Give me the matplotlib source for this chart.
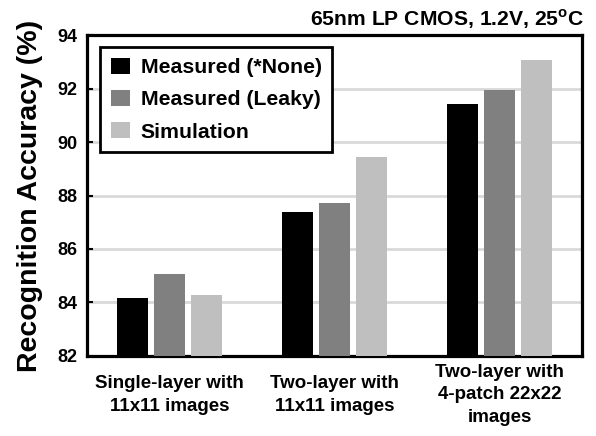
import numpy as np
import matplotlib.pyplot as plt

plt.rcParams['font.family'] = ['Liberation Sans', 'DejaVu Sans']
plt.rcParams['font.weight'] = 'bold'
plt.rcParams['mathtext.fontset'] = 'custom'
plt.rcParams['mathtext.rm'] = 'Liberation Sans:bold'
plt.rcParams['mathtext.bf'] = 'Liberation Sans:bold'

# data
groups = ["Single-layer with\n11x11 images", "Two-layer with\n11x11 images",
          "Two-layer with\n4-patch 22x22\nimages"]
measured_none = [84.15, 87.38, 91.42]
measured_leaky = [85.05, 87.73, 91.93]
simulation = [84.28, 89.43, 93.05]
series = ["Measured (*None)", "Measured (Leaky)", "Simulation"]
colors = ["#000000", "#808080", "#bfbfbf"]

fig = plt.figure(figsize=(5.96, 4.36), dpi=100)
ax = fig.add_axes([0.146, 0.1835, 0.8305, 0.7362])

x = np.arange(len(groups))
w = 0.188
step = 0.222
for i, (vals, lab, c) in enumerate(zip([measured_none, measured_leaky, simulation], series, colors)):
    ax.bar(x + (i - 1) * step, np.array(vals) - 82, w, bottom=82, color=c, label=lab, zorder=3)

ax.set_ylim(82, 94)
ax.set_xlim(-0.5, 2.5)
ax.set_yticks(np.arange(82, 95, 2))
ax.yaxis.grid(True, color="#d9d9d9", linewidth=2, zorder=0)
ax.set_xticks(x)
ax.set_xticklabels(groups, fontsize=13.5, fontweight='bold', linespacing=1.45)
for t in ax.get_xticklabels():
    t.set_va('center')
ax.tick_params(axis='x', length=0, pad=28)
ax.tick_params(axis='y', direction='in', length=4, width=1.5, labelsize=13, pad=7)
for s in ax.spines.values():
    s.set_linewidth(2.3)

ax.set_ylabel("Recognition Accuracy (%)", fontsize=20.5, fontweight='bold')
ax.yaxis.set_label_coords(-0.088, 0.5)

leg = ax.legend(loc='upper left', bbox_to_anchor=(0.026, 0.963), borderaxespad=0,
                fontsize=15.3, handlelength=0.9, handleheight=0.8, labelspacing=0.6,
                handletextpad=0.52, fancybox=False, framealpha=1, edgecolor='black',
                borderpad=0.5)
leg.get_frame().set_linewidth(2)
leg.set_zorder(5)

fig.text(0.98, 0.956, r"65nm LP CMOS, 1.2V, 25$^\mathrm{o}$C", ha='right', va='center',
         fontsize=15.2, fontweight='bold')

fig.savefig("out.png", dpi=100)
